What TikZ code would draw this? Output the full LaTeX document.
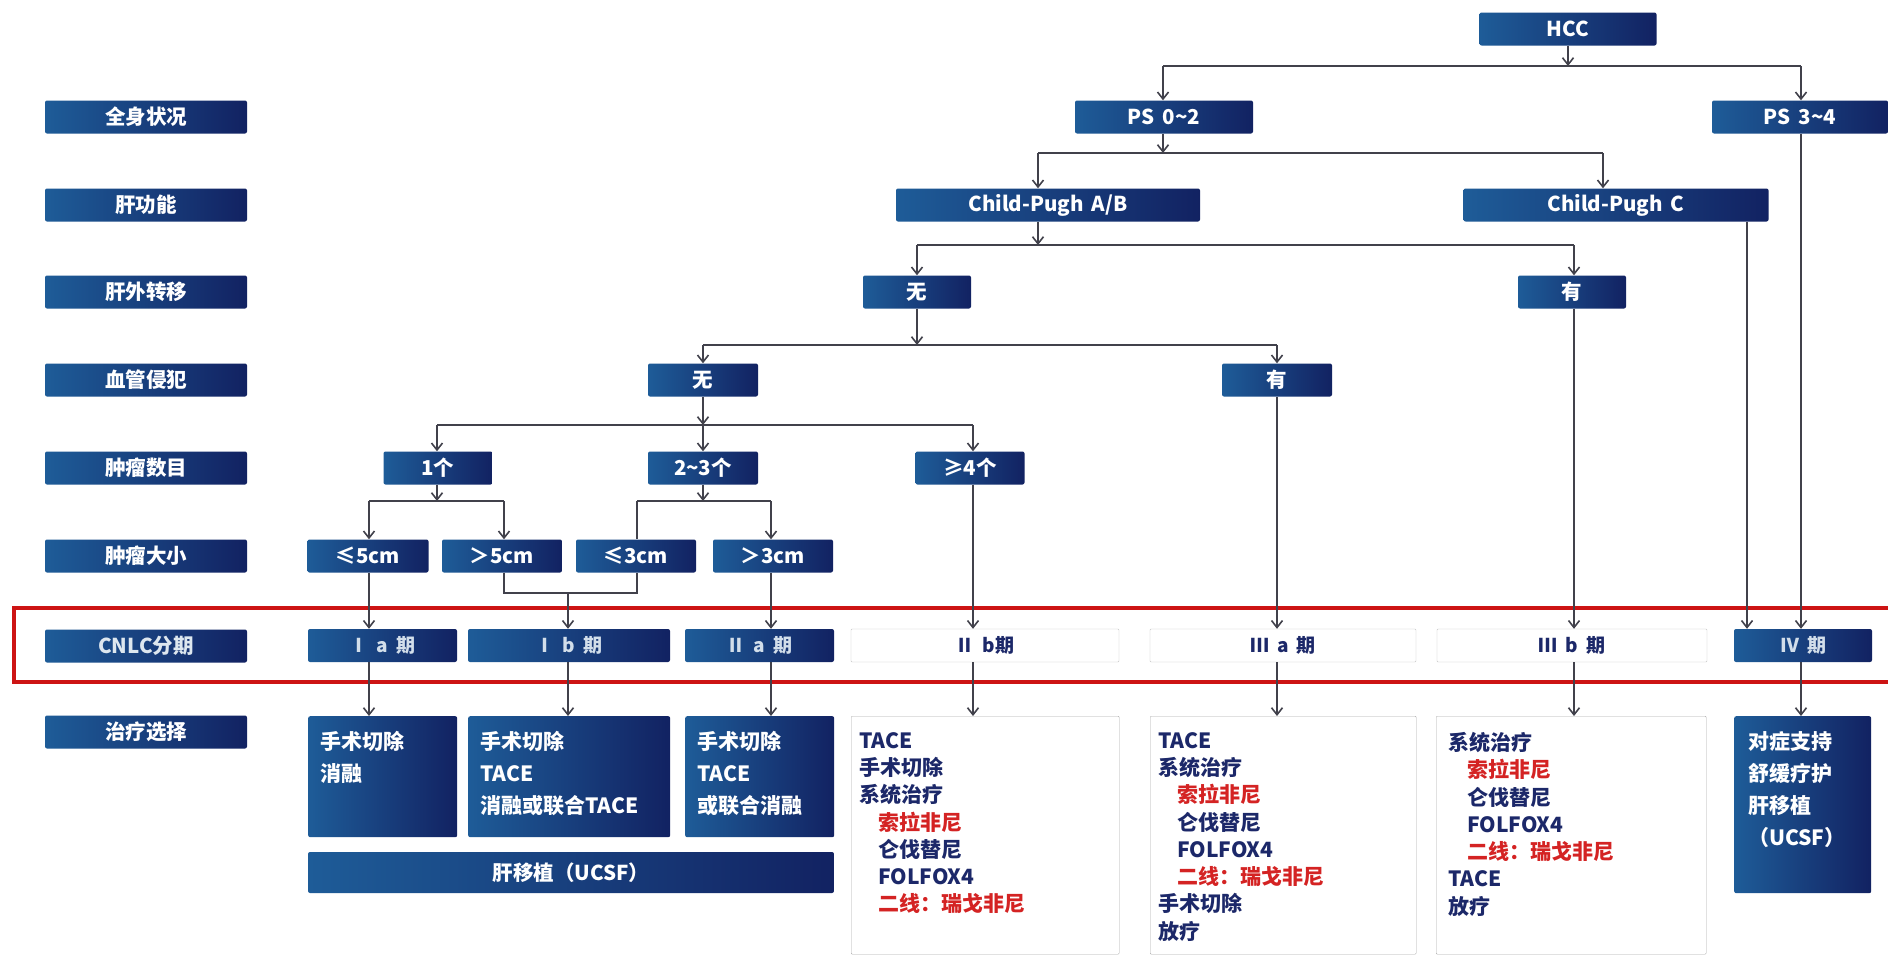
\documentclass[tikz,border=0pt]{standalone}
\usepackage{fontspec}
\setmainfont{Noto Sans CJK SC}
\usetikzlibrary{arrows.meta}
\definecolor{boxL}{RGB}{30,92,152}
\definecolor{boxR}{RGB}{18,34,98}
\definecolor{navy}{RGB}{28,40,105}
\definecolor{rd}{RGB}{212,35,35}
\definecolor{ln}{RGB}{65,65,75}
\definecolor{frm}{RGB}{205,20,20}
\newcommand{\ind}{\hspace*{19pt}}
\begin{document}
\begin{tikzpicture}[x=1pt,y=-1pt,
 dk/.style={left color=boxL,right color=boxR,text=white,font=\bfseries\fontsize{20.5}{24}\selectfont,minimum height=33pt,inner sep=0pt,rounded corners=2pt},
 lab/.style={dk,minimum width=202pt},
 stg/.style={dk,text=white!80!boxL,font=\bfseries\fontsize{19}{23}\selectfont},
 wstg/.style={draw=gray!45,fill=white,text=navy,font=\bfseries\fontsize{19}{23}\selectfont,minimum height=33pt,inner sep=0pt,rounded corners=1pt},
 tbox/.style={dk,anchor=north west},
 wbox/.style={draw=gray!65,fill=white,anchor=north west,rounded corners=1pt,inner sep=0pt},
 txt/.style={anchor=north west,align=left,inner sep=0pt,font=\bfseries\fontsize{21}{27.3}\selectfont},
 dtxt/.style={txt,text=white,font=\bfseries\fontsize{21}{32}\selectfont},
 conn/.style={draw=ln,line width=1.6pt},
 arr/.style={conn,-{Straight Barb[length=7pt,width=11pt]}},
 ]
\useasboundingbox (0,0) rectangle (1888,956);
\fill[white] (0,0) rectangle (1888,956);

% red frame
\draw[frm,line width=4pt] (1888,608) -- (14,608) -- (14,682) -- (1888,682);

% left labels
\node[lab] (l1) at (146,117) {全身状况};
\node[lab] (l2) at (146,205) {肝功能};
\node[lab] (l3) at (146,292) {肝外转移};
\node[lab] (l4) at (146,380) {血管侵犯};
\node[lab] (l5) at (146,468) {肿瘤数目};
\node[lab] (l6) at (146,556) {肿瘤大小};
\node[lab,text=white!85!boxL] (l7) at (146,646) {CNLC分期};
\node[lab] (l8) at (146,732) {治疗选择};

% tree
\node[dk,minimum width=177pt] (hcc) at (1568,29) {HCC};
\node[dk,minimum width=178pt] (ps02) at (1164,117) {PS\, 0\textasciitilde 2};
\node[dk,minimum width=176pt] (ps34) at (1800,117) {PS\, 3\textasciitilde 4};
\node[dk,minimum width=304pt] (cpab) at (1048,205) {Child-Pugh\, A/B};
\node[dk,minimum width=305pt] (cpc) at (1616,205) {Child-Pugh\, C};
\node[dk,minimum width=108pt] (wu1) at (917,292) {无};
\node[dk,minimum width=108pt] (you1) at (1572,292) {有};
\node[dk,minimum width=110pt] (wu2) at (703,380) {无};
\node[dk,minimum width=110pt] (you2) at (1277,380) {有};
\node[dk,minimum width=109pt] (n1) at (438,468) {1个};
\node[dk,minimum width=110pt] (n23) at (703,468) {2\textasciitilde 3个};
\node[dk,minimum width=109pt] (n4) at (970,468) {≥4个};
\node[dk,minimum width=121pt] (s5a) at (368,556) {≤5cm};
\node[dk,minimum width=120pt] (s5b) at (502,556) {＞5cm};
\node[dk,minimum width=120pt] (s3a) at (636,556) {≤3cm};
\node[dk,minimum width=120pt] (s3b) at (773,556) {＞3cm};

% stages
\node[stg,minimum width=149pt] (Ia) at (382.5,645.5) {Ⅰ\hspace{8pt}a\hspace{8pt}期};
\node[stg,minimum width=202pt] (Ib) at (569,645.5) {Ⅰ\hspace{8pt}b\hspace{8pt}期};
\node[stg,minimum width=149pt] (IIa) at (759.5,645.5) {Ⅱ\hspace{8pt}a\hspace{8pt}期};
\node[wstg,minimum width=268pt] (IIb) at (985,645.5) {Ⅱ\hspace{8pt}b期};
\node[wstg,minimum width=266pt] (IIIa) at (1283,645.5) {Ⅲ\hspace{8pt}a\hspace{8pt}期};
\node[wstg,minimum width=270pt] (IIIb) at (1572,645.5) {Ⅲ\hspace{8pt}b\hspace{8pt}期};
\node[stg,minimum width=138pt] (IV) at (1803,645.5) {Ⅳ\hspace{8pt}期};

% treatment boxes
\node[tbox,minimum width=149pt,minimum height=121pt] (t1) at (308,716) {};
\node[tbox,minimum width=202pt,minimum height=121pt] (t2) at (468,716) {};
\node[tbox,minimum width=149pt,minimum height=121pt] (t3) at (685,716) {};
\node[dk,minimum width=526pt,minimum height=41pt] (ucsf) at (571,872.5) {肝移植（UCSF）};
\node[wbox,minimum width=268pt,minimum height=238pt] (t4) at (851,716) {};
\node[wbox,minimum width=266pt,minimum height=238pt] (t5) at (1150,716) {};
\node[wbox,minimum width=270pt,minimum height=238pt] (t6) at (1436,716) {};
\node[tbox,minimum width=137pt,minimum height=177pt] (t7) at (1734,716) {};

\node[dtxt] (t1x) at ([xshift=12pt,yshift=-15pt]t1.north west) {手术切除\\消融};
\node[dtxt] (t2x) at ([xshift=12pt,yshift=-15pt]t2.north west) {手术切除\\TACE\\消融或联合TACE};
\node[dtxt] (t3x) at ([xshift=12pt,yshift=-15pt]t3.north west) {手术切除\\TACE\\或联合消融};
\node[txt,text=navy] (t4x) at ([xshift=8pt,yshift=-16pt]t4.north west) {TACE\\手术切除\\系统治疗\\\ind\textcolor{rd}{索拉非尼}\\\ind 仑伐替尼\\\ind FOLFOX4\\\ind\textcolor{rd}{二线：瑞戈非尼}};
\node[txt,text=navy] (t5x) at ([xshift=8pt,yshift=-16pt]t5.north west) {TACE\\系统治疗\\\ind\textcolor{rd}{索拉非尼}\\\ind 仑伐替尼\\\ind FOLFOX4\\\ind\textcolor{rd}{二线：瑞戈非尼}\\手术切除\\放疗};
\node[txt,text=navy] (t6x) at ([xshift=12pt,yshift=-16pt]t6.north west) {系统治疗\\\ind\textcolor{rd}{索拉非尼}\\\ind 仑伐替尼\\\ind FOLFOX4\\\ind\textcolor{rd}{二线：瑞戈非尼}\\TACE\\放疗};
\node[dtxt] (t7x) at ([xshift=14pt,yshift=-15pt]t7.north west) {对症支持\\舒缓疗护\\肝移植\\（UCSF）};

% connectors
\coordinate (aL) at (1163,66); \coordinate (aM) at (1568,66); \coordinate (aR) at (1801,66);
\draw[arr] (hcc.south) -- (aM);
\draw[conn] (aL) -- (aR);
\draw[arr] (aL) -- (aL |- ps02.north);
\draw[arr] (aR) -- (aR |- ps34.north);

\coordinate (bL) at (1038,153); \coordinate (bR) at (1603,153);
\draw[arr] (aL |- ps02.south) -- (aL |- bL);
\draw[conn] (bL) -- (bR);
\draw[arr] (bL) -- (bL |- cpab.north);
\draw[arr] (bR) -- (bR |- cpc.north);

\coordinate (cL) at (917,245); \coordinate (cR) at (1574,245);
\draw[arr] (bL |- cpab.south) -- (bL |- cL);
\draw[conn] (cL) -- (cR);
\draw[arr] (cL) -- (cL |- wu1.north);
\draw[arr] (cR) -- (cR |- you1.north);

\coordinate (dL) at (703,345); \coordinate (dR) at (1277,345);
\draw[arr] (cL |- wu1.south) -- (cL |- dL);
\draw[conn] (dL) -- (dR);
\draw[arr] (dL) -- (dL |- wu2.north);
\draw[arr] (dR) -- (dR |- you2.north);

\coordinate (eL) at (437,425); \coordinate (eM) at (703,425); \coordinate (eR) at (973,425);
\draw[arr] (dL |- wu2.south) -- (eM);
\draw[conn] (eL) -- (eR);
\draw[arr] (eL) -- (eL |- n1.north);
\draw[arr] (eM) -- (eM |- n23.north);
\draw[arr] (eR) -- (eR |- n4.north);

\coordinate (fL) at (369,501); \coordinate (fM) at (437,501); \coordinate (fR) at (504,501);
\draw[arr] (eL |- n1.south) -- (fM);
\draw[conn] (fL) -- (fR);
\draw[arr] (fL) -- (fL |- s5a.north);
\draw[arr] (fR) -- (fR |- s5b.north);

\coordinate (gL) at (637,501); \coordinate (gM) at (703,501); \coordinate (gR) at (771,501);
\draw[arr] (eM |- n23.south) -- (gM);
\draw[conn] (gL) -- (gR);
\draw[conn] (gL) -- (gL |- s3a.north);
\draw[arr] (gR) -- (gR |- s3b.north);

\draw[arr] (fL |- s5a.south) -- (fL |- Ia.north);
\draw[arr] (fL |- Ia.south) -- (fL |- t1.north);

\coordinate (hM) at (568,593);
\draw[conn] (fR |- s5b.south) |- (hM) -| (gL |- s3a.south);
\draw[arr] (hM) -- (hM |- Ib.north);
\draw[arr] (hM |- Ib.south) -- (hM |- t2.north);

\draw[arr] (gR |- s3b.south) -- (gR |- IIa.north);
\draw[arr] (gR |- IIa.south) -- (gR |- t3.north);

\draw[arr] (eR |- n4.south) -- (eR |- IIb.north);
\draw[arr] (eR |- IIb.south) -- (eR |- t4.north);

\draw[arr] (dR |- you2.south) -- (dR |- IIIa.north);
\draw[arr] (dR |- IIIa.south) -- (dR |- t5.north);

\draw[arr] (cR |- you1.south) -- (cR |- IIIb.north);
\draw[arr] (cR |- IIIb.south) -- (cR |- t6.north);

\coordinate (kx) at (1747,0);
\draw[arr] (kx |- cpc.south) -- (kx |- IV.north);
\draw[arr] (aR |- ps34.south) -- (aR |- IV.north);
\draw[arr] (aR |- IV.south) -- (aR |- t7.north);
\end{tikzpicture}
\end{document}
